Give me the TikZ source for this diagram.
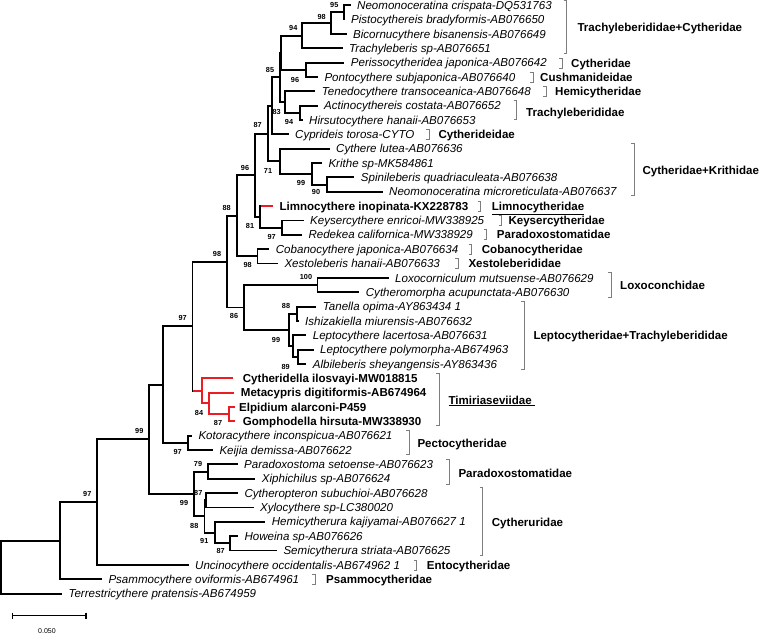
\documentclass[tikz,border=0pt]{standalone}
\usepackage{fontspec}
\setmainfont{Liberation Sans}
\definecolor{brgray}{RGB}{125,125,125}
\definecolor{tred}{RGB}{236,28,36}
\begin{document}
\begin{tikzpicture}[x=1pt,y=-1pt,
  br/.style={line width=1.9pt},
  rbr/.style={line width=1.9pt,draw=tred},
  leaf/.style={anchor=west,inner sep=0pt,text height=8.3pt,text depth=0pt,font=\fontsize{11.55}{13}\selectfont\itshape},
  bleaf/.style={leaf,font=\fontsize{11.55}{13}\selectfont\bfseries},
  bs/.style={inner sep=0pt,font=\fontsize{7.3}{8}\selectfont\bfseries},
  grp/.style={anchor=west,inner sep=0pt,text height=8.3pt,text depth=0pt,font=\fontsize{11.55}{13}\selectfont\bfseries},
  bk/.style={draw=brgray,line width=0.9pt}]
\useasboundingbox (0,0) rectangle (759,634);

% ---------- leaves ----------
\node[leaf] (l1) at (357,5.20) {Neomonoceratina crispata-DQ531763};
\node[leaf] (l2) at (351,19.55) {Pistocythereis bradyformis-AB076650};
\node[leaf] (l3) at (353,33.90) {Bicornucythere bisanensis-AB076649};
\node[leaf] (l4) at (349,48.25) {Trachyleberis sp-AB076651};
\node[leaf] (l5) at (350.7,62.60) {Perissocytheridea japonica-AB076642};
\node[leaf] (l6) at (324.3,76.95) {Pontocythere subjaponica-AB076640};
\node[leaf] (l7) at (321.7,91.30) {Tenedocythere transoceanica-AB076648};
\node[leaf] (l8) at (324,105.65) {Actinocythereis costata-AB076652};
\node[leaf] (l9) at (309,120.00) {Hirsutocythere hanaii-AB076653};
\node[leaf] (l10) at (295,134.35) {Cyprideis torosa-CYTO};
\node[leaf] (l11) at (336,148.70) {Cythere lutea-AB076636};
\node[leaf] (l12) at (328.3,163.05) {Krithe sp-MK584861};
\node[leaf] (l13) at (360.7,177.40) {Spinileberis quadriaculeata-AB076638};
\node[leaf] (l14) at (389,191.75) {Neomonoceratina microreticulata-AB076637};
\node[bleaf] (l15) at (279.3,206.10) {Limnocythere inopinata-KX228783};
\node[leaf] (l16) at (310,220.45) {Keysercythere enricoi-MW338925};
\node[leaf] (l17) at (308.3,234.80) {Redekea californica-MW338929};
\node[leaf] (l18) at (275.7,249.15) {Cobanocythere japonica-AB076634};
\node[leaf] (l19) at (284.3,263.50) {Xestoleberis hanaii-AB076633};
\node[leaf] (l20) at (395,277.85) {Loxocorniculum mutsuense-AB076629};
\node[leaf] (l21) at (365.7,292.20) {Cytheromorpha acupunctata-AB076630};
\node[leaf] (l22) at (322.7,306.55) {Tanella opima-AY863434 1};
\node[leaf] (l23) at (305,320.90) {Ishizakiella miurensis-AB076632};
\node[leaf] (l24) at (312.7,335.25) {Leptocythere lacertosa-AB076631};
\node[leaf] (l25) at (320,349.60) {Leptocythere polymorpha-AB674963};
\node[leaf] (l26) at (312.7,363.95) {Albileberis sheyangensis-AY863436};
\node[bleaf] (l27) at (242.7,378.30) {Cytheridella ilosvayi-MW018815};
\node[bleaf] (l28) at (240.7,392.65) {Metacypris digitiformis-AB674964};
\node[bleaf] (l29) at (239,407.00) {Elpidium alarconi-P459};
\node[bleaf] (l30) at (242.7,421.35) {Gomphodella hirsuta-MW338930};
\node[leaf] (l31) at (198.3,435.70) {Kotoracythere inconspicua-AB076621};
\node[leaf] (l32) at (219.3,450.05) {Keijia demissa-AB076622};
\node[leaf] (l33) at (244,464.40) {Paradoxostoma setoense-AB076623};
\node[leaf] (l34) at (261.7,478.75) {Xiphichilus sp-AB076624};
\node[leaf] (l35) at (244.3,493.10) {Cytheropteron subuchioi-AB076628};
\node[leaf] (l36) at (260,507.45) {Xylocythere sp-LC380020};
\node[leaf] (l37) at (271.7,521.80) {Hemicytherura kajiyamai-AB076627 1};
\node[leaf] (l38) at (244.3,536.15) {Howeina sp-AB076626};
\node[leaf] (l39) at (283.3,550.50) {Semicytherura striata-AB076625};
\node[leaf] (l40) at (195,564.85) {Uncinocythere occidentalis-AB674962 1};
\node[leaf] (l41) at (108.3,579.20) {Psammocythere oviformis-AB674961};
\node[leaf] (l42) at (68.3,593.55) {Terrestricythere pratensis-AB674959};

% leaf branch ends
\foreach \i in {1,...,26,31,32,33,34,35,36,37,38,39,40,41,42}
  \coordinate (e\i) at ([xshift=-6.3pt]l\i.west);
\coordinate (e27) at ([xshift=-9.4pt]l27.west);
\coordinate (e28) at ([xshift=-6.4pt]l28.west);
\coordinate (e29) at ([xshift=-4pt]l29.west);
\coordinate (e30) at ([xshift=-7.7pt]l30.west);

% ---------- internal nodes ----------
\coordinate (root) at (1,567.09);
\coordinate (A) at (60.3,540.63);
\coordinate (B) at (97.3,502.06);
\coordinate (C) at (149,439.27);
\coordinate (D) at (163.3,384.55);
\coordinate (E) at (194.3,493.99);
\coordinate (F) at (192.5,326.23);
\coordinate (G) at (187.7,442.88);
\coordinate (H) at (227.3,261.61);
\coordinate (J) at (202,390.86);
\coordinate (K) at (209.3,403.41);
\coordinate (L) at (228.7,414.18);
\coordinate (S) at (236.7,215.77);
\coordinate (U) at (257.5,256.33);
\coordinate (T) at (255,175.21);
\coordinate (W) at (260,216.86);
\coordinate (Y) at (281.7,227.63);
\coordinate (V) at (267.7,133.57);
\coordinate (n87) at (271.7,105.87);
\coordinate (n85) at (279.6,77.40);
\coordinate (Z1) at (281.2,52.73);
\coordinate (n94a) at (301.7,35.69);
\coordinate (n98) at (331,23.14);
\coordinate (n95) at (344.3,12.375);
\coordinate (n96a) at (306,69.78);
\coordinate (n83) at (285,102.06);
\coordinate (n94b) at (300,112.83);
\coordinate (n71) at (280,161.26);
\coordinate (n99b) at (311.7,173.81);
\coordinate (n90) at (326.7,184.58);
\coordinate (n86) at (244.3,307.45);
\coordinate (n100) at (317.5,285.03);
\coordinate (n99c) at (289.3,329.87);
\coordinate (n88) at (296.7,313.73);
\coordinate (n89p) at (293.3,346.01);
\coordinate (n89) at (298.3,356.78);
\coordinate (N) at (208,471.58);
\coordinate (X) at (204.5,516.42);
\coordinate (P) at (206.3,500.28);
\coordinate (Q) at (215,532.56);
\coordinate (R) at (230,543.33);

% ---------- black branches ----------
\foreach \p/\c in {root/A,root/e42,A/B,A/e41,B/C,B/e40,C/D,C/E,D/F,D/G,F/H,F/J,
  H/S,H/n86,S/T,S/U,T/V,T/W,V/n87,V/n71,n87/n85,n87/e10,n85/Z1,n85/n83,
  Z1/n94a,Z1/n96a,
  n94a/n98,n94a/e4,n98/n95,n98/e3,n95/e1,n95/e2,n96a/e5,n96a/e6,n83/e7,n83/n94b,
  n94b/e8,n94b/e9,n71/e11,n71/n99b,n99b/e12,n99b/n90,n90/e13,n90/e14,W/e15,W/Y,
  Y/e16,Y/e17,U/e18,U/e19,n86/n100,n86/n99c,n100/e20,n100/e21,n99c/n88,n99c/n89p,
  n88/e22,n88/e23,n89p/e24,n89p/n89,n89/e25,n89/e26,G/e31,G/e32,E/N,E/X,N/e33,N/e34,
  X/P,X/Q,P/e35,P/e36,Q/e37,Q/R,R/e38,R/e39}
  \draw[br] (\p) |- (\c);

% ---------- red branches ----------
\draw[rbr,shorten <=0.95pt] (F |- J) -- (J);
\draw[rbr,shorten <=0.95pt] (W |- e15) -- (e15);
\foreach \p/\c in {J/e27,J/K,K/e28,K/L,L/e29,L/e30}
  \draw[rbr] (\p) |- (\c);

% ---------- bootstrap values ----------
\foreach \t/\x/\y [count=\i] in {95/334.3/5,98/321.7/16.7,94/293.3/28.3,85/270/70,
  96/295/80,83/276.7/111.7,94/289/121.7,87/257.7/125,71/268/170.5,99/301/183.3,
  90/316/191.7,96/245/168,88/226.7/208,81/250/226,97/271.7/236.7,98/247.7/265,
  98/217/254,100/306/276.7,86/234/316,88/286/305.7,99/276/340,89/285.7/366.7,
  97/182.7/318.3,84/199/412.7,87/218/422.7,97/177.7/452,79/198/464,87/198.3/492.7,
  99/184/503,88/194.3/526,91/204.3/541,87/220.7/551,99/139.3/431,97/87.3/494}
  \node[bs] (bv\i) at (\x,\y) {\t};

% ---------- group brackets ----------
\foreach \x/\a/\b in {566.7/0.8/53.3, 562/58/68, 533.3/72/82, 546/86.3/96.3,
  516.7/100/119, 429.3/129.3/139.3, 634.3/143.3/195, 480.7/201/211,
  501.7/215.5/225.5, 486.7/229.8/239.8, 471.7/244.2/254.2, 458.3/258.5/268.5,
  611/272.3/297.3, 524.3/301.7/369.3, 439/373.3/425, 409.3/430.7/454,
  449.3/459.3/484, 482.7/487.3/555, 416.7/560/570, 315/574.2/584.2}
  \draw[bk] (\x-3,\a) -- (\x,\a) -- (\x,\b) -- (\x-3,\b);

\node[grp] (g1) at (577.3,27.3) {Trachyleberididae+Cytheridae};
\node[grp] (g2) at (571,63) {Cytheridae};
\node[grp] (g3) at (540,77) {Cushmanideidae};
\node[grp] (g4) at (555,91.3) {Hemicytheridae};
\node[grp] (g5) at (526,112.8) {Trachyleberididae};
\node[grp] (g6) at (438.3,134.4) {Cytherideidae};
\node[grp] (g7) at (642.3,170.5) {Cytheridae+Krithidae};
\node[grp] (g8) at (491.7,206.1) {\underline{Limnocytheridae}};
\node[grp] (g9) at (508.3,220.5) {Keysercytheridae};
\node[grp] (g10) at (496.7,234.8) {Paradoxostomatidae};
\node[grp] (g11) at (481.7,249.2) {Cobanocytheridae};
\node[grp] (g12) at (468.3,263.5) {Xestoleberididae};
\node[grp] (g13) at (620,285.3) {Loxoconchidae};
\node[grp] (g14) at (533.3,335.5) {Leptocytheridae+Trachyleberididae};
\node[grp] (g15) at (448.3,400) {\underline{Timiriaseviidae\ }};
\node[grp] (g16) at (417.3,443) {Pectocytheridae};
\node[grp] (g17) at (458.3,473) {Paradoxostomatidae};
\node[grp] (g18) at (491.7,522) {Cytheruridae};
\node[grp] (g19) at (426.7,564.9) {Entocytheridae};
\node[grp] (g20) at (326,579.2) {Psammocytheridae};

% ---------- scale bar ----------
\coordinate (sb1) at (12.3,615.7);
\coordinate (sb2) at (86,615.7);
\draw[line width=1.2pt] (sb1) -- (sb2);
\draw[line width=1.2pt] ([yshift=3.2pt]sb1) -- ([yshift=-3.2pt]sb1);
\draw[line width=1.2pt] ([yshift=3.2pt]sb2) -- ([yshift=-3.2pt]sb2);
\node[inner sep=0pt,font=\fontsize{7}{8}\selectfont] (sbl) at (47,631.5) {0.050};
\end{tikzpicture}
\end{document}
